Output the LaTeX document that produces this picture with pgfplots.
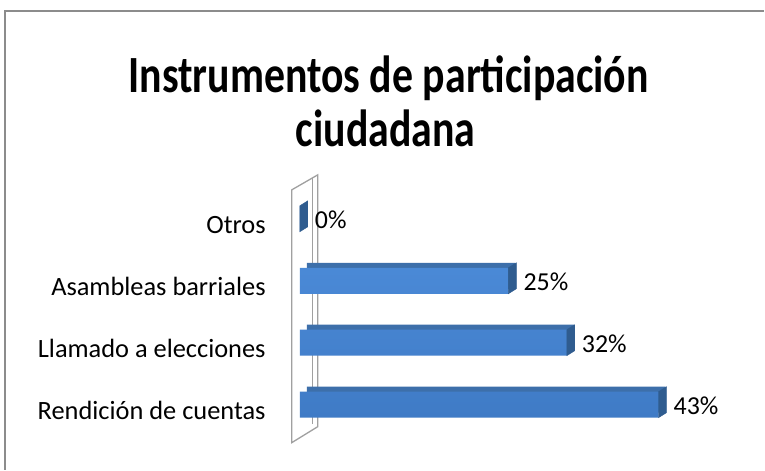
\documentclass[border=0pt]{standalone}
\usepackage{pgfplots}
\pgfplotsset{compat=1.18}
\usepackage{fontspec}
\setmainfont{Carlito}

\definecolor{frontTop}{HTML}{4F8FDD}
\definecolor{frontMid}{HTML}{5EA2EE}
\definecolor{frontBot}{HTML}{3F7BC6}
\definecolor{topFace}{HTML}{3D6FAA}
\definecolor{capFace}{HTML}{2F5C8F}
\definecolor{wallLine}{HTML}{A0A0A0}
\definecolor{frameLine}{HTML}{8C8C8C}

% end cap of a 3D bar, drawn at the bar's value
\pgfdeclareplotmark{barcap}{%
  \fill[capFace] (0bp,-13bp) -- (8bp,-8bp) -- (8bp,18bp) -- (0bp,13bp) -- cycle;
}

\begin{document}
\begin{tikzpicture}[x=1bp,y=1bp]
\fill[white] (0,0) rectangle (765,470);
\draw[frameLine, line width=1.2bp] (5,0) -- (5,459) -- (765,459);

\node[anchor=base, inner sep=0pt, font=\fontsize{42}{50}\bfseries] at (389,377) {\scalebox{1.0}[1.25]{Instrumentos de participación}};
\node[anchor=base, inner sep=0pt, font=\fontsize{42}{50}\bfseries] at (386,323) {\scalebox{1.0}[1.25]{ciudadana}};

% side wall
\filldraw[fill=white, draw=wallLine, line width=1.3bp]
  (292,280) -- (318,295) -- (318,43) -- (292,27) -- cycle;
\draw[wallLine, line width=1bp] (313,292) -- (313,46);

\begin{axis}[
  at={(300bp,34bp)}, anchor=south west,
  x=8.35bp, y=62bp,
  xmin=0, xmax=52, ymin=-0.5, ymax=3.5,
  axis line style={draw=none},
  xtick=\empty,
  ytick={0,1,2,3},
  yticklabels={Rendición de cuentas, Llamado a elecciones, Asambleas barriales, Otros},
  major tick length=0pt,
  yticklabel style={font=\fontsize{26.5}{30}\selectfont, anchor=east, inner sep=0pt, xshift=-34bp, yshift=-6bp},
  clip=false,
  /pgf/number format/assume math mode=true,
]
% top face (darker, shifted back)
\addplot[xbar, bar shift=0pt, bar width=26bp, fill=topFace, draw=none, xshift=7bp, yshift=5bp, forget plot]
  coordinates {(43,0) (32,1) (25,2) (0,3)};
% front face
\addplot[xbar, bar shift=0pt, bar width=26bp, draw=none, shading=axis, top color=frontTop, middle color=frontMid, bottom color=frontBot,
  point meta=x,
  nodes near coords={\pgfmathprintnumber{\pgfplotspointmeta}\%},
  nodes near coords align=horizontal,
  every node near coord/.append style={font=\fontsize{26}{30}\selectfont, anchor=west, inner sep=0pt, xshift=15bp, yshift=-1bp, text=black}]
  coordinates {(43,0) (32,1) (25,2) (0,3)};
% end caps
\addplot[only marks, mark=barcap, forget plot]
  coordinates {(43,0) (32,1) (25,2) (0,3)};
\end{axis}
\end{tikzpicture}
\end{document}
